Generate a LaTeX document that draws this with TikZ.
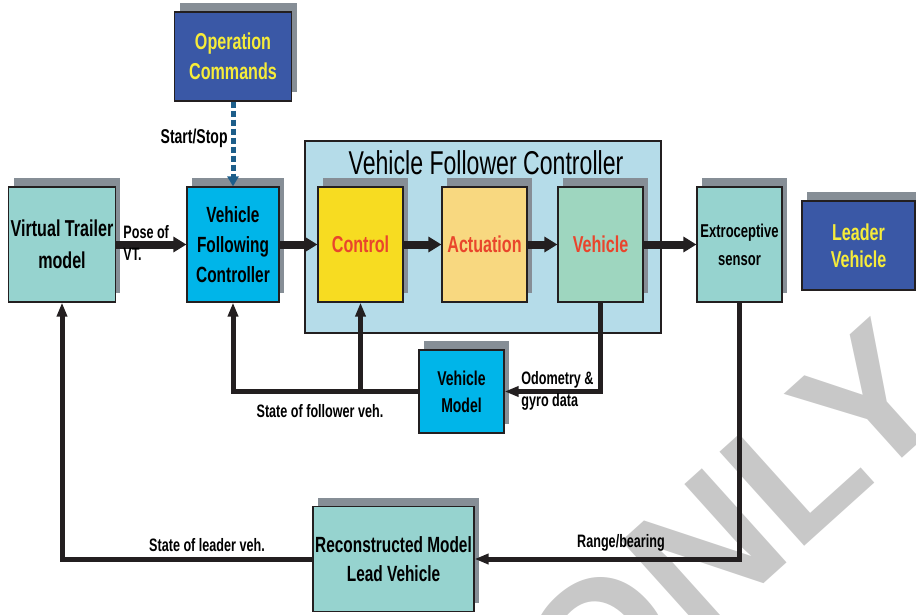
\documentclass[tikz,border=0pt]{standalone}
\usepackage{fontspec}
\setmainfont{Liberation Sans}[FakeStretch=0.7]
\newfontfamily\wmfont{Liberation Sans}
\usetikzlibrary{arrows.meta,shadows}

\definecolor{shadowgrey}{RGB}{134,142,150}
\definecolor{boxedge}{RGB}{35,31,32}
\definecolor{tealbox}{RGB}{150,211,207}
\definecolor{cyanbox}{RGB}{0,181,233}
\definecolor{bigblue}{RGB}{181,220,233}
\definecolor{ctrlyellow}{RGB}{247,220,33}
\definecolor{actorange}{RGB}{248,216,128}
\definecolor{vehgreen}{RGB}{158,214,191}
\definecolor{navybox}{RGB}{58,88,166}
\definecolor{labelyellow}{RGB}{246,236,58}
\definecolor{labelred}{RGB}{233,69,44}
\definecolor{dotblue}{RGB}{29,94,138}
\definecolor{wmgrey}{RGB}{200,200,200}

\tikzset{
	blk/.style={draw=boxedge, line width=0.6pt, minimum width=42.5pt, minimum height=57.5pt,
		align=center, inner sep=1pt, font=\bfseries\fontsize{11.5}{15}\selectfont,
		general shadow={fill=shadowgrey, shadow xshift=2.5pt, shadow yshift=4.5pt}},
	lbl/.style={font=\bfseries\fontsize{9}{11}\selectfont, inner sep=0pt, align=left},
	fwd/.style={line width=4pt, boxedge, -{Triangle[length=6.5pt,width=7.5pt]}},
	fb/.style={line width=2.5pt, boxedge, -{Triangle[length=7pt,width=5pt]}},
}

\begin{document}
\begin{tikzpicture}[x=0.5pt, y=-0.5pt]
	\useasboundingbox (0,0) rectangle (916,615);
	%watermark
	\node (wmark) [rotate=42, inner sep=0pt, text=wmgrey, font=\wmfont\bfseries\fontsize{92}{92}\selectfont] at (732,527) {ONLY};
	
	%follower controller frame
	\node (vfcbox) [draw=boxedge, line width=0.6pt, fill=bigblue, minimum width=178pt, minimum height=96pt] at (483,237) {};
	\node (vfctitle) [font=\fontsize{16.5}{18}\selectfont] at (486,163) {Vehicle Follower Controller};
	
	%blocks
	\node (opc) [blk, fill=navybox, text=labelyellow, minimum width=58.5pt, minimum height=44.5pt] at (233,56.5) {Operation\\Commands};
	\node (vt) [blk, fill=tealbox, minimum width=53pt, font=\bfseries\fontsize{11.5}{16}\selectfont] at (62,244.5) {Virtual Trailer\\model};
	\node (vfc) [blk, fill=cyanbox, minimum width=46pt, font=\bfseries\fontsize{11}{15}\selectfont] at (233,244.5) {Vehicle\\Following\\Controller};
	\node (ctrl) [blk, fill=ctrlyellow, text=labelred] at (360.5,244.5) {Control};
	\node (act) [blk, fill=actorange, text=labelred] at (484.5,244.5) {Actuation};
	\node (veh) [blk, fill=vehgreen, text=labelred] at (600.5,244.5) {Vehicle};
	\node (ext) [blk, fill=tealbox, font=\bfseries\fontsize{9.3}{14}\selectfont] at (739.5,244.5) {Extroceptive\\sensor};
	\node (lead) [blk, fill=navybox, text=labelyellow, minimum width=56.5pt, minimum height=44.5pt, font=\bfseries\fontsize{11.5}{13.5}\selectfont] at (858.5,245.5) {Leader\\Vehicle};
	\node (vm) [blk, fill=cyanbox, minimum height=41.5pt, font=\bfseries\fontsize{10}{13.5}\selectfont] at (461.5,391.5) {Vehicle\\Model};
	\node (rec) [blk, fill=tealbox, minimum width=80.5pt, minimum height=52.5pt, font=\bfseries\fontsize{11}{14.5}\selectfont] at (393.5,559) {Reconstructed Model\\Lead Vehicle};
	
	%forward path
	\draw[fwd] (vt) -- (vfc);
	\draw[fwd] (vfc) -- (ctrl);
	\draw[fwd] (ctrl) -- (act);
	\draw[fwd] (act) -- (veh);
	\draw[fwd] (veh) -- (ext);
	\draw[line width=2.5pt, dotblue, dash pattern=on 3pt off 1.5pt, -{Triangle[length=5pt,width=5.5pt]}] (opc) -- (vfc);
	
	%feedback paths
	\coordinate (tap) at (vm.west -| ctrl.south);
	\draw[fb] (veh.south) |- (vm.east);
	\draw[fb] (vm.west) -| (vfc.south);
	\draw[fb] (tap) -- (ctrl.south);
	\draw[fb] (ext.south) |- (rec.east);
	\draw[fb] (rec.west) -| (vt.south);
	
	%labels
	\node (poselbl) [lbl, anchor=west] at (123,243) {Pose of\\VT.};
	\node (startlbl) [lbl, anchor=east, font=\bfseries\fontsize{10}{11}\selectfont] at (228,138) {Start/Stop};
	\node (odolbl) [lbl, anchor=west] at (521,391) {Odometry \&\\gyro data};
	\node (follbl) [lbl] at (320,411) {State of follower veh.};
	\node (leadlbl) [lbl] at (207,545) {State of leader veh.};
	\node (rangelbl) [lbl] at (621,543) {Range/bearing};
\end{tikzpicture}
\end{document}
